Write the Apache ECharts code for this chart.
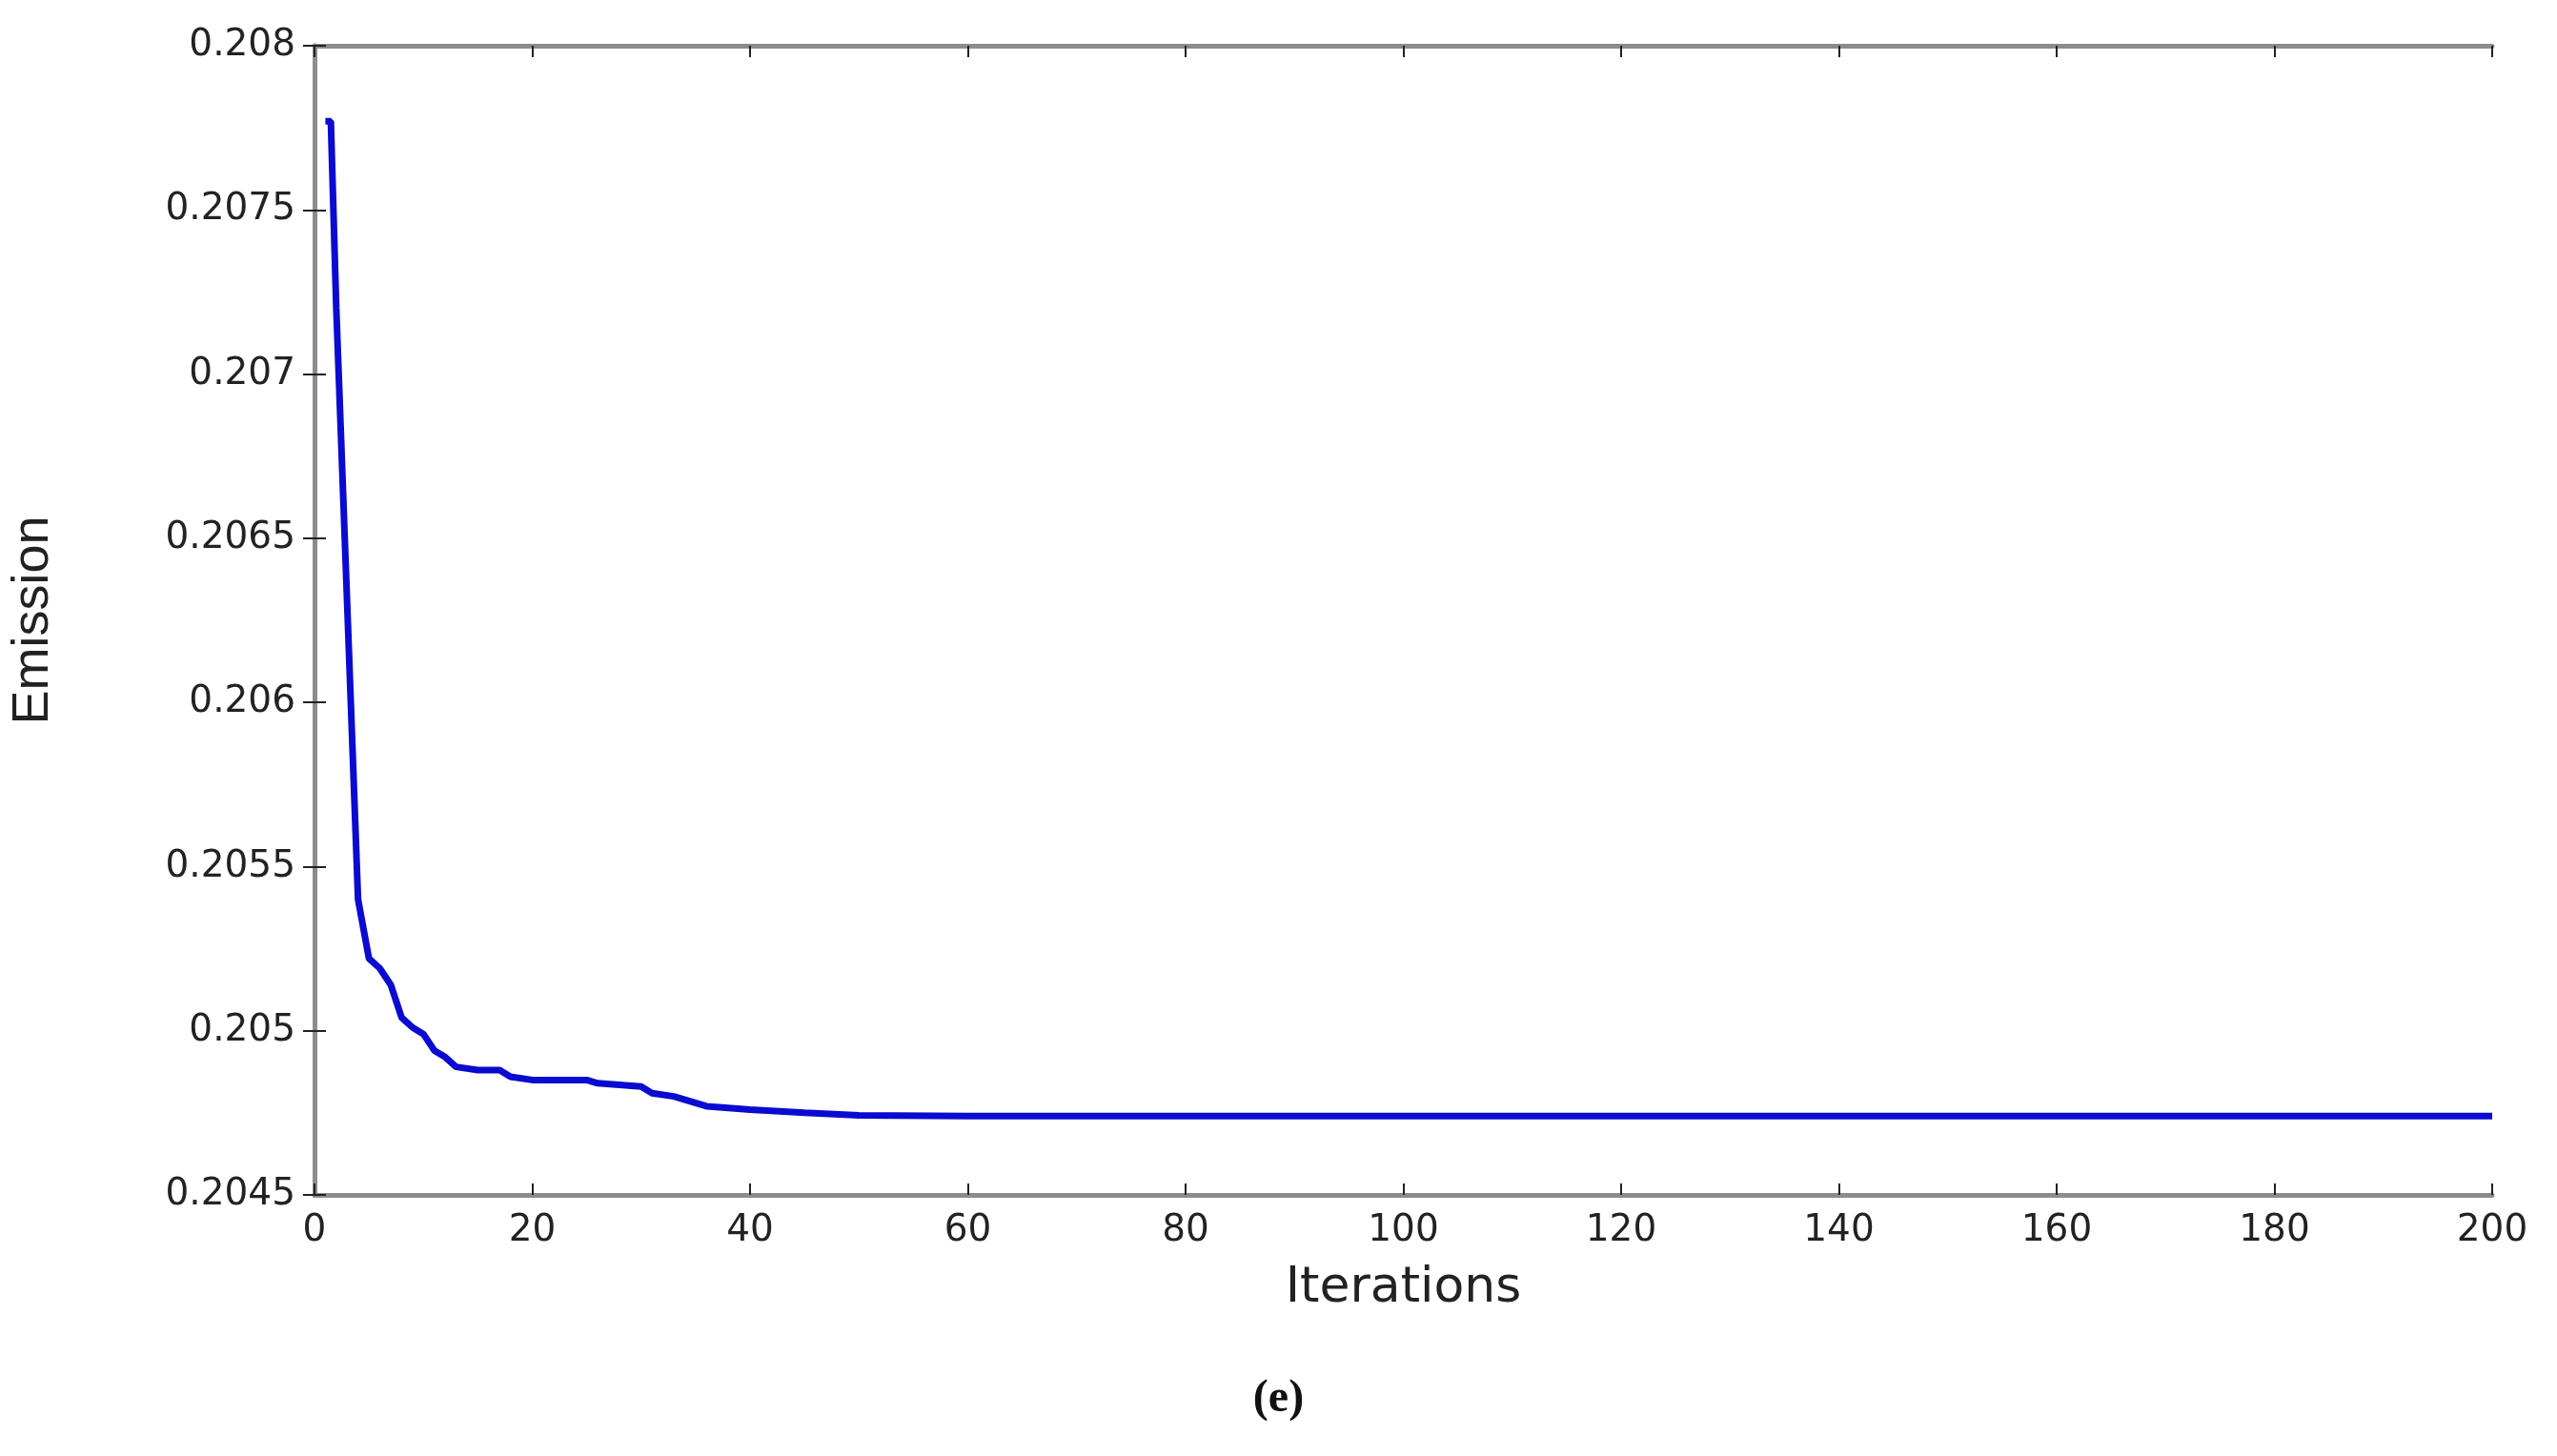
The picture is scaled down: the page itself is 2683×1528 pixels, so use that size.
<!DOCTYPE html>
<html><head><meta charset="utf-8">
<script src="https://cdn.jsdelivr.net/npm/echarts@6/dist/echarts.min.js"></script>
<style>html,body{margin:0;padding:0;background:#fff}#c{width:2683px;height:1528px}</style>
</head><body><div id="c"></div>
<script>
const iterations = [1,1.5,2,3,4,5,6,7,8,9,10,11,12,13,15,17,18,20,25,26,30,31,33,36,40,45,50,60,80,100,150,200];
const emission = [0.20777,0.20777,0.2072,0.2063,0.2054,0.20522,0.20519,0.20514,0.20504,0.20501,0.20499,0.20494,0.20492,0.20489,0.20488,0.20488,0.20486,0.20485,0.20485,0.20484,0.20483,0.20481,0.2048,0.20477,0.20476,0.20475,0.204742,0.20474,0.20474,0.20474,0.20474,0.20474];
const yTicks = ['0.2045','0.205','0.2055','0.206','0.2065','0.207','0.2075','0.208'];
const chart = echarts.init(document.getElementById('c'));
const lab = {fontFamily:'DejaVu Sans', fontSize:39, color:'#222'};
chart.setOption({
  animation:false,
  grid:{left:325,right:68,top:48,bottom:274},
  xAxis:[{type:'value',min:0,max:200,interval:20,
    name:'Iterations',nameLocation:'middle',nameGap:72,
    nameTextStyle:{fontFamily:'DejaVu Sans',fontSize:52,color:'#222'},
    axisLine:{lineStyle:{color:'#8c8c8c',width:5}},
    axisTick:{inside:true,length:12,lineStyle:{color:'#222',width:2}},
    axisLabel:Object.assign({margin:18},lab),splitLine:{show:false}},
   {type:'value',position:'top',min:0,max:200,interval:20,
    axisLine:{lineStyle:{color:'#8c8c8c',width:5}},
    axisTick:{inside:true,length:12,lineStyle:{color:'#222',width:2}},
    axisLabel:{show:false},splitLine:{show:false}}],
  yAxis:[{type:'value',min:0.2045,max:0.208,interval:0.0005,
    name:'Emission',nameLocation:'middle',nameGap:268,
    nameTextStyle:{fontFamily:'Liberation Sans',fontSize:54,color:'#222'},
    axisLine:{lineStyle:{color:'#8c8c8c',width:5}},
    axisTick:{inside:true,length:12,lineStyle:{color:'#222',width:2}},
    axisLabel:Object.assign({margin:20,formatter:(v,i)=>yTicks[i]},lab),splitLine:{show:false}},
   {type:'value',position:'right',min:0.2045,max:0.208,interval:0.0005,
    axisLine:{lineStyle:{color:'#8c8c8c',width:5}},
    axisTick:{inside:true,length:12,lineStyle:{color:'#222',width:2}},
    axisLabel:{show:false},splitLine:{show:false}}],
  graphic:[{type:'text',left:'center',top:1445,style:{text:'(e)',font:'bold 48px "Liberation Serif"',fill:'#111'}}],
  series:[{type:'line',data:iterations.map((x,i)=>[x,emission[i]]),showSymbol:false,
    lineStyle:{color:'#0a0ad0',width:7},z:1}]
});
</script></body></html>
